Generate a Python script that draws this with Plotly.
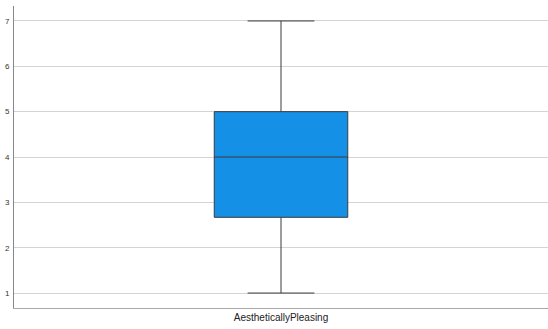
import plotly.graph_objects as go

# Summary statistics of the rating variable
categories = ["AestheticallyPleasing"]
lower_whisker = [1]
q1_values = [2.67]
median_values = [4]
q3_values = [5]
upper_whisker = [7]
y_ticks = [1, 2, 3, 4, 5, 6, 7]

fig = go.Figure()
fig.add_trace(go.Box(
    x=categories,
    lowerfence=lower_whisker,
    q1=q1_values,
    median=median_values,
    q3=q3_values,
    upperfence=upper_whisker,
    fillcolor="#1490e6",
    line=dict(color="#3a3a3a", width=1),
    width=1.0,
    whiskerwidth=0.5,
    boxpoints=False,
    showlegend=False,
    hoverinfo="skip",
))

fig.update_layout(
    width=548, height=329,
    margin=dict(l=14, r=0, t=6, b=21),
    paper_bgcolor="white",
    plot_bgcolor="white",
    font=dict(family="Liberation Sans, Arial, sans-serif", color="#333333"),
    xaxis=dict(
        type="category",
        range=[-2, 2],
        showgrid=False,
        showline=True,
        linecolor="#aaaaaa",
        linewidth=1,
        ticks="",
        tickfont=dict(size=10, color="#222222"),
        zeroline=False,
        fixedrange=True,
    ),
    yaxis=dict(
        range=[0.67, 7.33],
        tickvals=y_ticks,
        showgrid=True,
        gridcolor="#d4d4d4",
        gridwidth=1,
        showline=True,
        linecolor="#888888",
        linewidth=1,
        ticks="",
        ticklabelstandoff=2,
        tickfont=dict(size=8, color="#333333"),
        zeroline=False,
        fixedrange=True,
    ),
)

fig.write_html("out.html")
